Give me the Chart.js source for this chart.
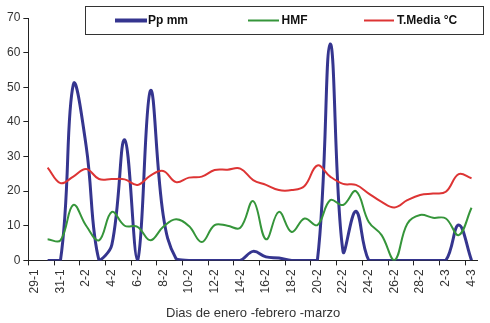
<!DOCTYPE html>
<html>
<head>
<meta charset="utf-8">
<script src="https://cdn.jsdelivr.net/npm/chart.js@4/dist/chart.umd.min.js"></script>
<style>
html,body{margin:0;padding:0;background:#fff;}
#wrap{width:490px;height:323px;}
</style>
</head>
<body>
<div id="wrap"><canvas id="c" width="490" height="323"></canvas></div>
<script>
const categories = ['29-1','30-1','31-1','1-2','2-2','3-2','4-2','5-2','6-2','7-2','8-2','9-2','10-2','11-2','12-2','13-2','14-2','15-2','16-2','17-2','18-2','19-2','20-2','21-2','22-2','23-2','24-2','25-2','26-2','27-2','28-2','1-3','2-3','3-3','4-3'];
const ppMm = [null,0,0,50.8,33,0,4.5,34.8,0,49,13,0.5,0,0,0,0,0,2.6,1.0,0.7,0,0,0,62.5,2.5,14.2,0,0,0,0,0,0,0,10.2,0];
const hmf = [null,6.1,5.8,16.0,10.0,5.8,14.0,10.0,9.7,5.8,9.7,11.9,9.9,5.3,10.2,10.0,9.4,17.1,6.1,14.0,8.2,12.1,10.2,17.4,16.0,20.0,11.1,7.3,0,10.6,13.1,12.3,12.1,7.3,15.2];
const tMedia = [null,26.8,22.3,24.2,26.4,23.5,23.5,23.4,21.8,24.5,25.8,22.6,23.9,24.2,26.1,26.2,26.5,23.2,21.8,20.3,20.3,21.5,27.4,24.2,22.1,21.8,19.3,16.9,15.3,17.4,18.9,19.3,19.8,24.9,23.7];
const yTicks = [0,10,20,30,40,50,60,70];
const seriesNames = ['Pp mm','HMF','T.Media °C'];
const seriesColors = ['#35358f','#35953a','#dd3434'];
const axisTitle = 'Dias de enero -febrero -marzo';

const FONT = "'Liberation Sans', Arial, sans-serif";

const legendBox = {
  id: 'legendBox',
  afterDraw(chart) {
    const ctx = chart.ctx;
    ctx.save();
    ctx.fillStyle = '#fff';
    ctx.fillRect(85.5, 6.5, 398, 28);
    ctx.strokeStyle = '#333';
    ctx.lineWidth = 1;
    ctx.strokeRect(85.5, 6.5, 398, 28);
    const items = [
      {x1: 115, x2: 147, tx: 148, w: 4},
      {x1: 248, x2: 279, tx: 281.5, w: 2},
      {x1: 364, x2: 394, tx: 397, w: 2}
    ];
    ctx.font = "bold 12px " + FONT;
    ctx.textBaseline = 'middle';
    ctx.textAlign = 'left';
    items.forEach((it, i) => {
      ctx.strokeStyle = seriesColors[i];
      ctx.lineWidth = it.w;
      ctx.beginPath();
      ctx.moveTo(it.x1, 20.5);
      ctx.lineTo(it.x2, 20.5);
      ctx.stroke();
      ctx.fillStyle = '#111';
      ctx.fillText(seriesNames[i], it.tx, 21);
    });
    ctx.restore();
  }
};

new Chart(document.getElementById('c'), {
  type: 'line',
  data: {
    labels: categories,
    datasets: [
      {label: seriesNames[0], data: ppMm, borderColor: seriesColors[0], borderWidth: 3, pointRadius: 0, tension: 0.4, fill: false, order: 3},
      {label: seriesNames[1], data: hmf, borderColor: seriesColors[1], borderWidth: 2, pointRadius: 0, tension: 0.4, fill: false, order: 2},
      {label: seriesNames[2], data: tMedia, borderColor: seriesColors[2], borderWidth: 2, pointRadius: 0, tension: 0.4, fill: false, order: 1}
    ]
  },
  options: {
    responsive: false,
    animation: false,
    devicePixelRatio: 1,
    layout: {padding: {left: 4, right: 5, top: 18, bottom: 2}},
    plugins: {legend: {display: false}, tooltip: {enabled: false}},
    scales: {
      x: {
        type: 'category',
        offset: true,
        grid: {
          offset: true,
          drawOnChartArea: false,
          drawTicks: true,
          tickLength: 5,
          lineWidth: 1,
          tickColor: (c) => (c.index !== undefined && c.index % 2 === 0) ? '#222' : 'rgba(0,0,0,0)',
          color: 'rgba(0,0,0,0)'
        },
        border: {display: true, color: '#222', width: 1},
        ticks: {
          autoSkip: false,
          minRotation: 90,
          maxRotation: 90,
          padding: 4,
          color: '#333',
          font: {family: FONT, size: 12},
          callback: function(v, i) { return i % 2 === 0 ? categories[i] : ''; }
        },
        title: {display: true, text: axisTitle, color: '#333', font: {family: FONT, size: 13}, padding: {top: 8, bottom: 0}}
      },
      y: {
        min: 0, max: 70,
        afterBuildTicks: (axis) => { axis.ticks = yTicks.map(v => ({value: v})); },
        grid: {drawOnChartArea: false, drawTicks: true, tickLength: 5, color: '#222'},
        border: {display: true, color: '#222', width: 1},
        ticks: {color: '#333', padding: 3, font: {family: FONT, size: 12}}
      }
    }
  },
  plugins: [legendBox]
});
</script>
</body>
</html>
